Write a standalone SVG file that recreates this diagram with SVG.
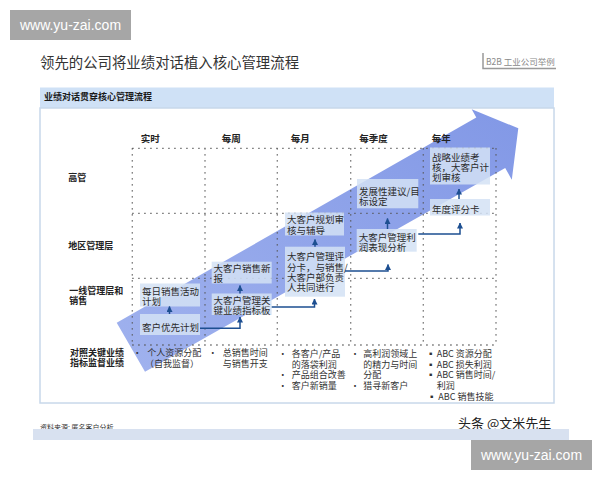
<svg xmlns="http://www.w3.org/2000/svg" width="600" height="480" viewBox="0 0 600 480">
<defs>
<style>
.wm{fill:#a6a6a6}
.wmt{font-family:"Liberation Sans",Arial,sans-serif;font-size:14px;fill:#fff;text-anchor:middle;dominant-baseline:central}
.cjk{font-family:"Noto Sans CJK SC","Liberation Sans",sans-serif}
.title{font-size:14.4px;fill:#333}
.hd{font-size:9px;font-weight:bold;fill:#1a1a1a;dominant-baseline:central}
.col{font-size:9.5px;font-weight:bold;fill:#222;dominant-baseline:central}
.row{font-size:9px;font-weight:bold;fill:#222;dominant-baseline:central}
.bx{fill:#d3e2f5;fill-opacity:0.85}
.bt{font-size:9.5px;fill:#2b2b2b;dominant-baseline:central}
.kt{font-size:9px;fill:#333;dominant-baseline:central}
.grid{stroke:#555;stroke-width:1.3;stroke-dasharray:1.3 4.7;fill:none}
.con{stroke:#1d4f91;stroke-width:1.5;fill:none}
</style>
<marker id="ah" markerUnits="userSpaceOnUse" markerWidth="6" markerHeight="6" refX="5.5" refY="3" orient="auto">
<path d="M0,0 L6,3 L0,6 z" fill="#1d4f91"/>
</marker>
<linearGradient id="ag" x1="0" y1="1" x2="1" y2="0">
<stop offset="0" stop-color="#a0b2ee"/>
<stop offset="1" stop-color="#8298e6"/>
</linearGradient>
</defs>
<rect width="600" height="480" fill="#fff"/>

<g id="watermark-top">
<rect class="wm" x="10" y="10" width="121" height="30"/>
<text class="wmt" x="70.5" y="25">www.yu-zai.com</text>
</g>

<text class="cjk title" x="40" y="61.7" dominant-baseline="central">领先的公司将业绩对话植入核心管理流程</text>

<g id="b2b-label">
<polyline points="483,53 483,68.5 556,68.5" fill="none" stroke="#999" stroke-width="1.5"/>
<text class="cjk" x="486" y="61" font-size="8.5" fill="#8a8a8a" dominant-baseline="central">B2B 工业公司举例</text>
</g>

<g id="frame">
<rect x="40" y="87.5" width="514" height="20.5" fill="#cfe1f6"/>
<rect x="40" y="108" width="514" height="295" fill="#fff" stroke="#c8d8ea" stroke-width="1.5"/>
<text class="cjk hd" x="44" y="96.7">业绩对话贯穿核心管理流程</text>
</g>

<g id="big-arrow">
<polygon points="116.7,322.7 476.3,117.4 471.7,109.3 518.3,128.3 511.8,179.7 505.2,168.1 145,371.7" fill="url(#ag)"/>
</g>

<g id="grid">
<path class="grid" d="M132.3,148.3 H496 M132.3,213.3 H496 M132.3,278.3 H496 M132.3,345 H496 M132.3,148.3 V345 M205,148.3 V345 M277.3,148.3 V345 M350.7,148.3 V345 M423.3,148.3 V345 M496,148.3 V345"/>
</g>

<g id="column-headers" class="cjk">
<text class="col" x="140.7" y="138.3">实时</text>
<text class="col" x="221.7" y="138.3">每周</text>
<text class="col" x="290.7" y="138.3">每月</text>
<text class="col" x="359.3" y="138.3">每季度</text>
<text class="col" x="431.7" y="138.3">每年</text>
</g>

<g id="row-labels" class="cjk">
<text class="row" x="68.3" y="177.3">高管</text>
<text class="row" x="68.3" y="245">地区管理层</text>
<text class="row" x="69.3" y="290">一线管理层和</text>
<text class="row" x="69.3" y="300.7">销售</text>
<text class="row" x="70" y="352.7">对照关键业绩</text>
<text class="row" x="70" y="362.5">指标监督业绩</text>
</g>

<g id="n1" class="cjk">
<rect class="bx" x="140" y="283.5" width="60" height="23"/>
<text class="bt" x="142" y="290.6">每日销售活动</text>
<text class="bt" x="142" y="300.8">计划</text>
</g>
<g id="n2" class="cjk">
<rect class="bx" x="140" y="314" width="60" height="21"/>
<text class="bt" x="142" y="326.5">客户优先计划</text>
</g>
<g id="n3" class="cjk">
<rect class="bx" x="211.7" y="261.7" width="60" height="21.8"/>
<text class="bt" x="213.5" y="268">大客户销售新</text>
<text class="bt" x="213.5" y="278.3">报</text>
</g>
<g id="n4" class="cjk">
<rect class="bx" x="211.7" y="293.5" width="60" height="21.5"/>
<text class="bt" x="213.5" y="300">大客户管理关</text>
<text class="bt" x="213.5" y="310">键业绩指标板</text>
</g>
<g id="n5" class="cjk">
<rect class="bx" x="285" y="212.5" width="59" height="23"/>
<text class="bt" x="287" y="219.3">大客户规划审</text>
<text class="bt" x="287" y="229.6">核与辅导</text>
</g>
<g id="n6" class="cjk">
<rect class="bx" x="285" y="246.7" width="60" height="50"/>
<text class="bt" x="287" y="256.4">大客户管理评</text>
<text class="bt" x="287" y="267">分卡，与销售/</text>
<text class="bt" x="287" y="277.3">大客户部负责</text>
<text class="bt" x="287" y="287.3">人共同进行</text>
</g>
<g id="n7" class="cjk">
<rect class="bx" x="357" y="179" width="61.3" height="29.3"/>
<text class="bt" x="359" y="191">发展性建议/目</text>
<text class="bt" x="359" y="201.3">标设定</text>
</g>
<g id="n8" class="cjk">
<rect class="bx" x="356.7" y="229" width="60" height="22.7"/>
<text class="bt" x="358.7" y="236.7">大客户管理利</text>
<text class="bt" x="358.7" y="246.7">润表现分析</text>
</g>
<g id="n9" class="cjk">
<rect class="bx" x="430" y="147.5" width="60" height="37"/>
<text class="bt" x="432" y="157.3">战略业绩考</text>
<text class="bt" x="432" y="167.3">核，大客户计</text>
<text class="bt" x="432" y="177.3">划审核</text>
</g>
<g id="n10" class="cjk">
<rect class="bx" x="430" y="199" width="60" height="16.5"/>
<text class="bt" x="432" y="208.8">年度评分卡</text>
</g>

<g id="connectors">
<path class="con" d="M169.5,314 V306.5" marker-end="url(#ah)"/>
<path class="con" d="M200,328.3 H240 V317" marker-end="url(#ah)"/>
<path class="con" d="M240,293.5 V285.5" marker-end="url(#ah)"/>
<path class="con" d="M271.7,307 H314.5 V299" marker-end="url(#ah)"/>
<path class="con" d="M315,246.7 V239.5" marker-end="url(#ah)"/>
<path class="con" d="M345,271 H388 V264.5" marker-end="url(#ah)"/>
<path class="con" d="M387.5,229 V218.5" marker-end="url(#ah)"/>
<path class="con" d="M418.3,234 H460 V223" marker-end="url(#ah)"/>
<path class="con" d="M459,199 V189" marker-end="url(#ah)"/>
</g>

<g id="kpi-row" class="cjk">
<text class="kt" x="137.3" y="352.7" text-anchor="middle">•</text>
<text class="kt" x="147.3" y="352.7">个人资源分配</text>
<text class="kt" x="145" y="363.3">（自我监督）</text>
<text class="kt" x="212.7" y="352.7" text-anchor="middle">•</text>
<text class="kt" x="222.7" y="352.7">总销售时间</text>
<text class="kt" x="222.7" y="363.3">与销售开支</text>
<text class="kt" x="282.7" y="353.3" text-anchor="middle">•</text>
<text class="kt" x="291.7" y="353.3">各客户/产品</text>
<text class="kt" x="291.7" y="364">的落袋利润</text>
<text class="kt" x="282.7" y="374.3" text-anchor="middle">•</text>
<text class="kt" x="291.7" y="374.3">产品组合改善</text>
<text class="kt" x="282.7" y="385" text-anchor="middle">•</text>
<text class="kt" x="291.7" y="385">客户新销量</text>
<text class="kt" x="355" y="353.3" text-anchor="middle">•</text>
<text class="kt" x="363.3" y="353.3">高利润领域上</text>
<text class="kt" x="363.3" y="364">的精力与时间</text>
<text class="kt" x="363.3" y="374.3">分配</text>
<text class="kt" x="355" y="385" text-anchor="middle">•</text>
<text class="kt" x="363.3" y="385">猎寻新客户</text>
<text class="kt" x="430.7" y="353.3" text-anchor="middle">▪</text>
<text class="kt" x="436.7" y="353.3">ABC 资源分配</text>
<text class="kt" x="430.7" y="364" text-anchor="middle">▪</text>
<text class="kt" x="436.7" y="364">ABC 损失利润</text>
<text class="kt" x="430.7" y="374.3" text-anchor="middle">▪</text>
<text class="kt" x="436.7" y="374.3">ABC 销售时间/</text>
<text class="kt" x="436.7" y="385">利润</text>
<text class="kt" x="431.7" y="396" text-anchor="middle">▪</text>
<text class="kt" x="438.3" y="396">ABC 销售技能</text>
</g>

<g id="footer">
<text class="cjk" x="40" y="426.7" font-size="7" fill="#333" dominant-baseline="central">资料来源: 匿名客户分析</text>
<text class="cjk" x="458" y="422.7" font-size="13" fill="#222" dominant-baseline="central">头条 @文米先生</text>
<rect x="33" y="429" width="536" height="11" fill="#d8e1f0"/>
</g>

<g id="watermark-bottom">
<rect class="wm" x="471" y="440" width="121" height="30"/>
<text class="wmt" x="531.5" y="455">www.yu-zai.com</text>
</g>
</svg>
